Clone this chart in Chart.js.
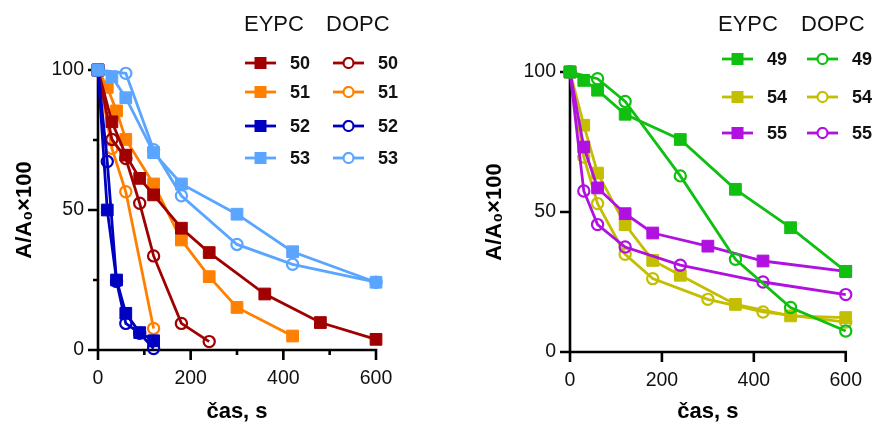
<!DOCTYPE html>
<html>
<head>
<meta charset="utf-8">
<script src="https://cdn.jsdelivr.net/npm/chart.js@4.4.0/dist/chart.umd.min.js"></script>
<style>
  html, body { margin:0; padding:0; background:#fff; }
  body { width:879px; height:423px; position:relative; overflow:hidden; font-family:"Liberation Sans", Arial, sans-serif; }
  .box { position:absolute; top:0; height:423px; }
  .hdr { position:absolute; font-size:22px; color:#111; line-height:1; }
  .lg { position:absolute; display:flex; align-items:center; }
  .lg span { font-weight:bold; font-size:18px; color:#111; margin-left:14px; line-height:1; }
</style>
</head>
<body>
<div class="box" style="left:0;width:440px;"><canvas id="c1"></canvas></div>
<div class="box" style="left:440px;width:439px;"><canvas id="c2"></canvas></div>
<div id="legends"></div>
<script>
// ---- data (time in s, A/A0*100) ----
const t50E = [0,30,60,90,120,180,240,360,480,600];
const v50E = [100,81.5,69.6,61.3,55.4,43.5,34.8,20,9.8,3.8];
const t50D = [0,30,60,90,120,180,240];
const v50D = [100,75.2,68.4,52.4,33.6,9.5,3];
const t51E = [0,20,40,60,120,180,240,300,420];
const v51E = [100,93.8,85.4,75.2,59.3,39.3,26.2,15.2,5];
const t51D = [0,30,60,120];
const v51D = [100,72,56.5,7.7];
const t52E = [0,20,40,60,90,120];
const v52E = [100,50,25,13.1,6.2,3.3];
const t52D = [0,20,40,60,90,120];
const v52D = [100,67.3,24.5,9.5,6,0.5];
const t53E = [0,30,60,120,180,300,420,600];
const v53E = [100,97.6,90.1,70.5,59.3,48.5,35.1,24.2];
const t53D = [0,60,120,180,300,420,600];
const v53D = [100,98.8,71.5,55.1,37.7,30.6,24.2];

const t49E = [0,30,60,120,240,360,480,600];
const v49E = [100,97,93.5,84.9,75.9,58.1,44.4,28.8];
const t49D = [0,60,120,240,360,480,600];
const v49D = [100,97.6,89.5,62.9,33.1,15.9,7.5];
const t54E = [0,30,60,120,180,240,360,480,600];
const v54E = [100,81,63.9,45.5,32.7,27.4,17,12.9,12.3];
const t54D = [0,30,60,120,180,300,420,600];
const v54D = [100,69.6,53,34.9,26.2,18.8,14.3,10.7];
const t55E = [0,30,60,120,180,300,420,600];
const v55E = [100,73.2,58.6,49.4,42.5,37.8,32.5,28.8];
const t55D = [0,30,60,120,240,420,600];
const v55D = [100,57.5,45.5,37.5,31,25,20.5];

const xMajor = [0,200,400,600];
const xMinorLeft = [100,300,500];
const yMajor = [0,50,100];
const yMinorLeft = [25,75];
const legendLeft = ['50','51','52','53'];
const legendRight = ['49','54','55'];
const headers = ['EYPC','DOPC'];
const xTitle = 'čas, s';
const yTitle = 'A/A₀×100';

const C = {
  '50':'#A00000', '51':'#FF8000', '52':'#0000C0', '53':'#5AA5FF',
  '49':'#10C010', '54':'#C4BE00', '55':'#B010E0'
};

function pts(t, v){ return t.map((x,i)=>({x:x, y:v[i]})); }
function ds(t, v, col, filled){
  return {
    data: pts(t,v), borderColor: col, backgroundColor: col,
    borderWidth: 2.8, tension: 0, clip: false,
    pointStyle: filled ? 'rect' : 'circle',
    pointRadius: filled ? 8.3 : 5.6,
    pointBorderWidth: filled ? 1 : 2.2,
    pointBackgroundColor: filled ? col : 'rgba(0,0,0,0)',
    pointBorderColor: col
  };
}

const axesPlugin = {
  id: 'axesDraw',
  beforeDatasetsDraw(chart, args, opts) {
    const ctx = chart.ctx, xs = chart.scales.x, ys = chart.scales.y;
    const x0 = xs.getPixelForValue(0), x1 = xs.getPixelForValue(600);
    const y0 = ys.getPixelForValue(0), y1 = ys.getPixelForValue(100);
    ctx.save();
    ctx.strokeStyle = '#000'; ctx.lineWidth = 2.6; ctx.lineCap = 'butt';
    ctx.beginPath();
    ctx.moveTo(x0, y1 - 1); ctx.lineTo(x0, y0 + 1.3);
    ctx.moveTo(x0 - 1.3, y0); ctx.lineTo(x1 + 1.3, y0);
    xMajor.forEach(v => { const p = xs.getPixelForValue(v); ctx.moveTo(p, y0); ctx.lineTo(p, y0 + 10); });
    (opts.xMinor || []).forEach(v => { const p = xs.getPixelForValue(v); ctx.moveTo(p, y0); ctx.lineTo(p, y0 + 5); });
    yMajor.forEach(v => { const p = ys.getPixelForValue(v); ctx.moveTo(x0, p); ctx.lineTo(x0 - 10, p); });
    (opts.yMinor || []).forEach(v => { const p = ys.getPixelForValue(v); ctx.moveTo(x0, p); ctx.lineTo(x0 - 5, p); });
    ctx.stroke();
    ctx.restore();
  }
};

function makeChart(id, datasets, pad, yW, xH, minors) {
  return new Chart(document.getElementById(id), {
    type: 'line',
    data: { datasets: datasets },
    plugins: [axesPlugin],
    options: {
      responsive: true, maintainAspectRatio: false, animation: false, events: [],
      layout: { padding: pad },
      plugins: { legend: { display: false }, tooltip: { enabled: false }, axesDraw: minors },
      scales: {
        x: {
          type: 'linear', min: 0, max: 600,
          afterFit: s => { s.height = xH; },
          grid: { display: false, drawTicks: false }, border: { display: false },
          ticks: { stepSize: 200, padding: 17, color: '#111', font: { family: '"Liberation Sans", Arial', size: 19.5 } },
          title: { display: true, text: xTitle, color: '#000', padding: { top: 0, bottom: 0 },
                   font: { family: '"Liberation Sans", Arial', size: 22, weight: 'bold', lineHeight: 1 } }
        },
        y: {
          min: 0, max: 100,
          afterFit: s => { s.width = yW; },
          grid: { display: false, drawTicks: false }, border: { display: false },
          ticks: { stepSize: 50, padding: 14, color: '#111', font: { family: '"Liberation Sans", Arial', size: 19.5 } },
          title: { display: true, text: yTitle, color: '#000', padding: { top: 12, bottom: 0 },
                   font: { family: '"Liberation Sans", Arial', size: 22, weight: 'bold', lineHeight: 1.2 } }
        }
      }
    }
  });
}

makeChart('c1', [
  ds(t53E, v53E, C['53'], true),
  ds(t53D, v53D, C['53'], false),
  ds(t52E, v52E, C['52'], true),
  ds(t52D, v52D, C['52'], false),
  ds(t50E, v50E, C['50'], true),
  ds(t50D, v50D, C['50'], false),
  ds(t51E, v51E, C['51'], true),
  ds(t51D, v51D, C['51'], false)
], { left: 0, right: 64, top: 70, bottom: 0 }, 98, 73, { xMinor: xMinorLeft, yMinor: yMinorLeft });

makeChart('c2', [
  ds(t49E, v49E, C['49'], true),
  ds(t49D, v49D, C['49'], false),
  ds(t55E, v55E, C['55'], true),
  ds(t55D, v55D, C['55'], false),
  ds(t54E, v54E, C['54'], true),
  ds(t54D, v54D, C['54'], false)
], { left: 30, right: 30, top: 72, bottom: 0 }, 100, 71, { xMinor: [], yMinor: [] });

// ---- legends (HTML) ----
function sym(col, filled) {
  const shape = filled
    ? `<rect x="9.5" y="0" width="12" height="12" fill="${col}"/>`
    : `<circle cx="15.5" cy="6" r="5" fill="#fff" stroke="${col}" stroke-width="2.2"/>`;
  return `<svg width="31" height="12" style="display:block"><line x1="0" y1="6" x2="31" y2="6" stroke="${col}" stroke-width="2.8"/>${shape}</svg>`;
}
function legend(labels, rowsY, colX, hdrX, hdrY) {
  let h = '';
  h += `<div class="hdr" style="left:${hdrX[0]}px;top:${hdrY}px">${headers[0]}</div>`;
  h += `<div class="hdr" style="left:${hdrX[1]}px;top:${hdrY}px">${headers[1]}</div>`;
  labels.forEach((lab, i) => {
    h += `<div class="lg" style="left:${colX[0]}px;top:${rowsY[i]-9}px;height:18px">${sym(C[lab], true)}<span>${lab}</span></div>`;
    h += `<div class="lg" style="left:${colX[1]}px;top:${rowsY[i]-9}px;height:18px">${sym(C[lab], false)}<span>${lab}</span></div>`;
  });
  return h;
}
document.getElementById('legends').innerHTML =
  legend(legendLeft, [63, 92, 126, 158], [245, 333], [244, 326], 13) +
  legend(legendRight, [59, 97, 133], [722, 807], [718, 801], 13);
</script>
</body>
</html>
